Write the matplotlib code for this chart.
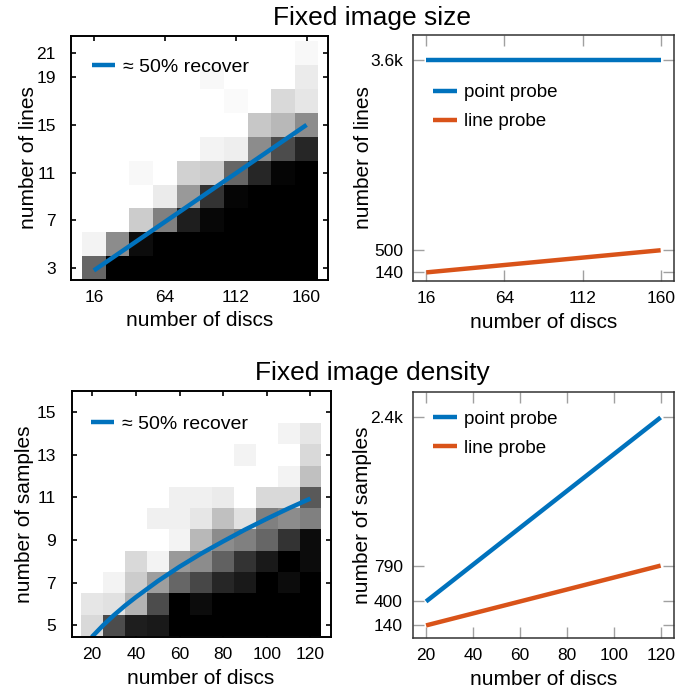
import numpy as np
import matplotlib
matplotlib.use("Agg")
import matplotlib.pyplot as plt

plt.rcParams['font.family'] = ['Liberation Sans', 'DejaVu Sans']

# ---------------- data ----------------
# Fixed image size: success heat map (rows = number of lines, cols = number of discs)
discs_size = [16, 32, 48, 64, 80, 96, 112, 128, 144, 160]
lines_size = [3, 5, 7, 9, 11, 13, 15, 17, 19, 21]
success_size = [
    [0.40, 0.00, 0.00, 0.00, 0.00, 0.00, 0.00, 0.00, 0.00, 0.00],   # 3
    [0.95, 0.55, 0.05, 0.00, 0.00, 0.00, 0.00, 0.00, 0.00, 0.00],   # 5
    [1.00, 1.00, 0.80, 0.50, 0.12, 0.03, 0.00, 0.00, 0.00, 0.00],   # 7
    [1.00, 1.00, 1.00, 0.92, 0.60, 0.20, 0.02, 0.00, 0.00, 0.00],   # 9
    [1.00, 1.00, 0.97, 1.00, 0.82, 0.80, 0.40, 0.15, 0.02, 0.00],   # 11
    [1.00, 1.00, 1.00, 1.00, 1.00, 0.95, 0.93, 0.55, 0.30, 0.15],   # 13
    [1.00, 1.00, 1.00, 1.00, 1.00, 1.00, 1.00, 0.78, 0.72, 0.55],   # 15
    [1.00, 1.00, 1.00, 1.00, 1.00, 1.00, 0.98, 1.00, 0.85, 0.90],   # 17
    [1.00, 1.00, 1.00, 1.00, 1.00, 0.97, 1.00, 1.00, 1.00, 0.92],   # 19
    [1.00, 1.00, 1.00, 1.00, 1.00, 1.00, 1.00, 1.00, 1.00, 0.97],   # 21
]
half_size_x = [16, 160]
half_size_y = [2.8, 15.0]

# Fixed image density: success heat map (rows = number of samples, cols = number of discs)
discs_dens = [20, 30, 40, 50, 60, 70, 80, 90, 100, 110, 120]
samples_dens = [5, 6, 7, 8, 9, 10, 11, 12, 13, 14]
success_dens = [
    [0.85, 0.30, 0.12, 0.10, 0.00, 0.00, 0.00, 0.00, 0.00, 0.00, 0.00],  # 5
    [0.90, 0.88, 0.70, 0.30, 0.00, 0.05, 0.00, 0.00, 0.00, 0.00, 0.00],  # 6
    [1.00, 0.95, 0.80, 0.62, 0.40, 0.28, 0.15, 0.10, 0.00, 0.05, 0.00],  # 7
    [1.00, 1.00, 0.85, 0.95, 0.60, 0.55, 0.38, 0.20, 0.10, 0.00, 0.05],  # 8
    [1.00, 1.00, 1.00, 1.00, 0.95, 0.72, 0.55, 0.50, 0.40, 0.20, 0.05],  # 9
    [1.00, 1.00, 1.00, 0.94, 0.94, 0.90, 0.75, 0.88, 0.50, 0.55, 0.50],  # 10
    [1.00, 1.00, 1.00, 1.00, 0.94, 0.94, 0.92, 1.00, 0.85, 0.85, 0.35],  # 11
    [1.00, 1.00, 1.00, 1.00, 1.00, 1.00, 1.00, 1.00, 1.00, 0.95, 0.75],  # 12
    [1.00, 1.00, 1.00, 1.00, 1.00, 1.00, 1.00, 0.95, 1.00, 1.00, 0.85],  # 13
    [1.00, 1.00, 1.00, 1.00, 1.00, 1.00, 1.00, 1.00, 1.00, 0.95, 0.90],  # 14
]
half_dens_x = [19.8, 25, 30, 35, 40, 50, 60, 70, 80, 90, 100, 110, 120]
half_dens_y = [4.45, 5.0, 5.48, 5.92, 6.32, 7.07, 7.75, 8.37, 8.94, 9.49, 10.0, 10.49, 10.95]

# Probe costs
probe_size_x = [16, 160]
point_probe_lines = [3600, 3600]
line_probe_lines = [140, 500]
probe_dens_x = [20, 120]
point_probe_samples = [400, 2400]
line_probe_samples = [140, 790]

size_xticks = [16, 64, 112, 160]
size_yticks_heat = [3, 7, 11, 15, 19, 21]
size_yticks_probe = [140, 500, 3600]
size_yticklabels_probe = ['140', '500', '3.6k']
dens_xticks = [20, 40, 60, 80, 100, 120]
dens_yticks_heat = [5, 7, 9, 11, 13, 15]
dens_yticks_probe = [140, 400, 790, 2400]
dens_yticklabels_probe = ['140', '400', '790', '2.4k']

BLUE = '#0072BD'
ORANGE = '#D95319'

# ---------------- figure ----------------
W, H = 700, 692
fig = plt.figure(figsize=(W / 100, H / 100), dpi=100)


def add_ax(l, r, t, b):
    return fig.add_axes([l / W, 1 - b / H, (r - l) / W, (b - t) / H])


ax_tl = add_ax(71, 328, 36, 280)
ax_tr = add_ax(413, 674, 35, 281)
ax_bl = add_ax(71.5, 330.5, 391, 637)
ax_br = add_ax(412.7, 674, 391.7, 638.3)


def edges(c):
    c = np.asarray(c, float)
    d = np.diff(c)
    mid = c[:-1] + d / 2
    return np.concatenate([[c[0] - d[0] / 2], mid, [c[-1] + d[-1] / 2]])


def style_heat(ax):
    ax.set_axisbelow(True)
    for s in ax.spines.values():
        s.set_color('black')
        s.set_linewidth(1.4)
        s.set_zorder(5)
    ax.tick_params(direction='in', length=3.5, width=1.2, color='black',
                   top=True, right=True, labelsize=12.5)
    ax.tick_params(axis='y', pad=11)
    ax.tick_params(axis='x', pad=7)


def style_probe(ax):
    for s in ax.spines.values():
        s.set_color('#333333')
        s.set_linewidth(1.1)
    ax.tick_params(direction='in', length=8, width=1.0, color='#a0a0a0',
                   top=True, right=True, labelsize=12.5)
    ax.tick_params(axis='y', pad=7)
    ax.tick_params(axis='x', pad=7)


def labels(ax, xl, yl, xc, yc):
    ax.set_xlabel(xl, fontsize=15, va='center')
    ax.set_ylabel(yl, fontsize=15, va='center')
    ax.xaxis.set_label_coords(0.5, xc)
    ax.yaxis.set_label_coords(yc, 0.5)


# top-left heat map
ax = ax_tl
ax.pcolormesh(edges(discs_size), edges(lines_size), np.array(success_size),
              cmap='gray', vmin=0, vmax=1, zorder=1, shading='flat')
ax.plot(half_size_x, half_size_y, color=BLUE, lw=3.2, zorder=3,
        label='\u2248 50% recover', solid_capstyle='butt')
ax.set_xlim(0.5, 174.5)
ax.set_ylim(2.0, 22.45)
ax.set_xticks(size_xticks)
ax.set_yticks(size_yticks_heat)
style_heat(ax)
labels(ax, 'number of discs', 'number of lines', -0.168, -0.167)
ax.legend(loc='upper left', bbox_to_anchor=(0.082, 0.91), frameon=False,
          fontsize=14, borderaxespad=0, borderpad=0, handlelength=1.2,
          handletextpad=0.4)

# top-right probes
ax = ax_tr
ax.plot(probe_size_x, point_probe_lines, color=BLUE, lw=3.2, label='point probe',
        solid_capstyle='butt')
ax.plot(probe_size_x, line_probe_lines, color=ORANGE, lw=3.2, label='line probe',
        solid_capstyle='butt')
ax.set_xlim(7.8, 168.2)
ax.set_ylim(0, 4000)
ax.set_xticks(size_xticks)
ax.set_yticks(size_yticks_probe)
ax.set_yticklabels(size_yticklabels_probe)
style_probe(ax)
labels(ax, 'number of discs', 'number of lines', -0.169, -0.188)
ax.legend(loc='upper left', bbox_to_anchor=(0.078, 0.80), frameon=False,
          fontsize=13.5, borderaxespad=0, borderpad=0, handlelength=1.25,
          handletextpad=0.4, labelspacing=0.62)

# bottom-left heat map
ax = ax_bl
ax.pcolormesh(edges(discs_dens), edges(samples_dens), np.array(success_dens),
              cmap='gray', vmin=0, vmax=1, zorder=1, shading='flat')
ax.plot(half_dens_x, half_dens_y, color=BLUE, lw=3.2, zorder=3,
        label='\u2248 50% recover', solid_capstyle='butt')
ax.set_xlim(10.5, 129.2)
ax.set_ylim(4.45, 16.0)
ax.set_xticks(dens_xticks)
ax.set_yticks(dens_yticks_heat)
style_heat(ax)
labels(ax, 'number of discs', 'number of samples', -0.167, -0.18)
ax.legend(loc='upper left', bbox_to_anchor=(0.074, 0.902), frameon=False,
          fontsize=14, borderaxespad=0, borderpad=0, handlelength=1.2,
          handletextpad=0.4)

# bottom-right probes
ax = ax_br
ax.plot(probe_dens_x, point_probe_samples, color=BLUE, lw=3.2, label='point probe',
        solid_capstyle='butt')
ax.plot(probe_dens_x, line_probe_samples, color=ORANGE, lw=3.2, label='line probe',
        solid_capstyle='butt')
ax.set_xlim(14.3, 125.7)
ax.set_ylim(0, 2680)
ax.set_xticks(dens_xticks)
ax.set_yticks(dens_yticks_probe)
ax.set_yticklabels(dens_yticklabels_probe)
style_probe(ax)
labels(ax, 'number of discs', 'number of samples', -0.167, -0.192)
ax.legend(loc='upper left', bbox_to_anchor=(0.078, 0.922), frameon=False,
          fontsize=13.5, borderaxespad=0, borderpad=0, handlelength=1.25,
          handletextpad=0.4, labelspacing=0.62)

fig.text(372 / W, 1 - 25 / H, 'Fixed image size', ha='center', va='baseline', fontsize=19)
fig.text(372 / W, 1 - 380 / H, 'Fixed image density', ha='center', va='baseline', fontsize=19)

fig.savefig('out.png', dpi=100)
